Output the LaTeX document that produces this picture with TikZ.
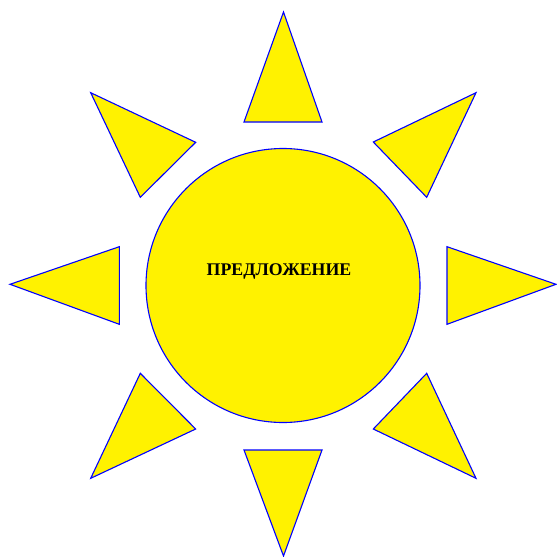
\documentclass[tikz,border=0pt]{standalone}
\usepackage{fontspec}
\setmainfont{Liberation Serif}
\begin{document}
\begin{tikzpicture}[x=1pt,y=-1pt,
  ray/.style={draw=blue,fill=yellow,line width=1.1pt,line join=miter},
  sun/.style={circle,draw=blue,fill=yellow,line width=1.1pt,minimum size=274pt,inner sep=0pt}]
\useasboundingbox (0,0) rectangle (557,557);
\node[sun] (c) at (283,285.5) {};
\node[font=\bfseries\fontsize{17.8}{20}\selectfont] (t) at (279,272) {ПРЕДЛОЖЕНИЕ};
% rays
\draw[ray] (283.5,12) -- (322,122) -- (244,122) -- cycle;
\draw[ray] (283.5,556) -- (322,450) -- (244,450) -- cycle;
\draw[ray] (10,284.3) -- (119.3,246.7) -- (119.3,324.3) -- cycle;
\draw[ray] (556,284.3) -- (447,246.7) -- (447,324.3) -- cycle;
\draw[ray] (90.7,92.7) -- (195.7,142.3) -- (140.3,197.3) -- cycle;
\draw[ray] (476,92.7) -- (373.3,142) -- (426.7,197.3) -- cycle;
\draw[ray] (90.7,478.3) -- (140.3,373.3) -- (195.7,429) -- cycle;
\draw[ray] (476,478.3) -- (426.7,373.3) -- (373.3,429) -- cycle;
\end{tikzpicture}
\end{document}
